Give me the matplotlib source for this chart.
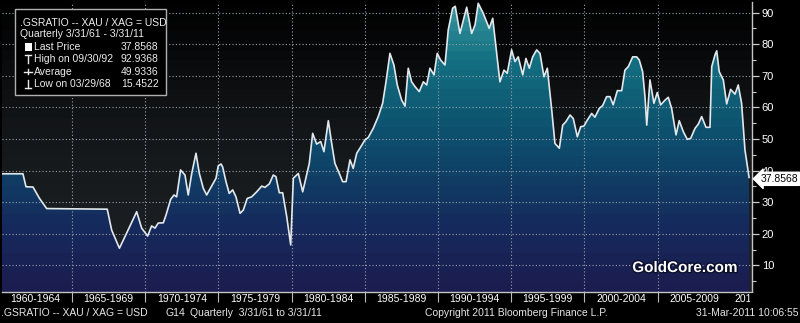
import numpy as np
import matplotlib
matplotlib.use('Agg')
import matplotlib.pyplot as plt
import matplotlib.patheffects as pe
from matplotlib.colors import LinearSegmentedColormap
from matplotlib.lines import Line2D
from matplotlib.patches import Rectangle
from matplotlib.ticker import MultipleLocator
from matplotlib.transforms import blended_transform_factory

plt.rcParams['font.family'] = ['Liberation Sans', 'DejaVu Sans']

# gold / silver ratio, quarterly closes (decimal year, ratio)
dates = [
    1960.22, 1961.65, 1961.86, 1962.34, 1962.77, 1963.27, 1967.41, 1967.71, 1968.24, 1968.74,
    1969.42, 1969.76, 1970.17, 1970.44, 1970.67, 1970.89, 1971.24, 1971.42, 1971.74, 1971.97,
    1972.15, 1972.42, 1972.72, 1972.94, 1973.18, 1973.47, 1973.70, 1973.97, 1974.20, 1974.65,
    1974.84, 1974.99, 1975.18, 1975.29, 1975.52, 1975.74, 1975.98, 1976.20, 1976.48, 1976.70,
    1976.97, 1977.27, 1977.62, 1977.96, 1978.18, 1978.48, 1978.75, 1978.93, 1979.16, 1979.39,
    1979.67, 1979.94, 1980.12, 1980.46, 1980.76, 1981.21, 1981.44, 1981.71, 1981.99, 1982.21,
    1982.51, 1982.74, 1982.96, 1983.26, 1983.49, 1983.72, 1983.99, 1984.21, 1984.45, 1984.67,
    1985.01, 1985.24, 1985.58, 1985.92, 1986.22, 1986.45, 1986.72, 1986.99, 1987.22, 1987.52,
    1987.75, 1987.97, 1988.20, 1988.43, 1988.72, 1989.00, 1989.23, 1989.45, 1989.73, 1989.95,
    1990.18, 1990.48, 1990.70, 1991.00, 1991.18, 1991.50, 1991.96, 1992.30, 1992.53, 1992.75,
    1993.09, 1993.50, 1993.74, 1994.23, 1994.51, 1994.73, 1995.03, 1995.26, 1995.48, 1995.79,
    1996.01, 1996.24, 1996.47, 1996.74, 1996.97, 1997.24, 1997.47, 1997.77, 1997.99, 1998.29,
    1998.52, 1998.74, 1999.02, 1999.24, 1999.52, 1999.75, 1999.97, 2000.20, 2000.50, 2000.72,
    2001.02, 2001.25, 2001.52, 2001.75, 2001.97, 2002.25, 2002.55, 2002.77, 2003.00, 2003.30,
    2003.57, 2003.75, 2003.98, 2004.14, 2004.26, 2004.48, 2004.75, 2004.98, 2005.21, 2005.51,
    2005.73, 2005.96, 2006.26, 2006.48, 2006.76, 2007.03, 2007.26, 2007.56, 2007.78, 2008.01,
    2008.31, 2008.58, 2008.70, 2008.92, 2009.04, 2009.21, 2009.49, 2009.72, 2009.99, 2010.29,
    2010.51, 2010.74, 2010.97, 2011.25,
]
ratio = [
    39.0, 39.0, 34.9, 34.8, 31.3, 28.0, 27.8, 21.2, 15.4522, 20.3,
    27.0, 21.8, 19.3, 22.5, 21.8, 23.4, 23.5, 25.9, 30.9, 32.3,
    31.7, 40.2, 38.6, 32.3, 39.1, 45.5, 39.1, 34.4, 32.3, 36.0,
    37.6, 41.5, 42.1, 41.2, 36.5, 32.8, 33.9, 31.7, 26.5, 27.5,
    31.2, 31.7, 33.3, 35.1, 34.7, 35.8, 38.6, 38.1, 33.0, 33.0,
    25.4, 16.5, 37.6, 39.1, 33.3, 42.3, 51.8, 48.4, 49.2, 46.0,
    55.8, 48.6, 42.3, 39.1, 36.5, 36.5, 43.4, 40.7, 45.5, 47.1,
    49.7, 50.5, 53.4, 57.1, 61.3, 68.1, 77.1, 73.4, 67.1, 62.3,
    60.4, 72.4, 68.1, 66.6, 65.0, 68.1, 67.1, 72.4, 70.3, 77.1,
    75.0, 73.4, 84.5, 91.4, 92.0, 83.4, 91.7, 83.4, 86.1, 92.9368,
    89.8, 85.0, 88.2, 68.1, 71.8, 70.8, 78.2, 74.5, 76.0, 70.3,
    75.5, 72.4, 76.0, 78.2, 77.1, 69.7, 72.4, 59.2, 48.6, 47.1,
    54.4, 55.5, 57.6, 56.5, 50.7, 53.9, 54.1, 56.0, 58.1, 56.9,
    59.7, 60.6, 63.4, 63.4, 60.8, 65.3, 65.3, 71.8, 72.9, 76.0,
    76.0, 75.0, 71.3, 63.4, 54.4, 68.7, 61.3, 64.7, 60.8, 62.3,
    63.2, 59.7, 51.3, 55.8, 52.3, 49.9, 50.2, 53.4, 54.7, 57.1,
    53.7, 53.7, 72.9, 76.6, 77.9, 71.3, 68.7, 61.1, 65.7, 64.2,
    67.1, 61.3, 46.5, 37.8568,
]

last_price = 37.8568
high_label, high_value = 'High on 09/30/92', 92.9368
avg_value = 49.9336
low_label, low_value = 'Low on 03/29/68', 15.4522

period_starts = list(range(1960, 2015, 5))
y_ticks = [10, 20, 30, 40, 50, 60, 70, 80, 90]

W, H = 800, 323


def fx(x):
    return x / W


def fy(y):
    return 1 - y / H


fig = plt.figure(figsize=(W / 100, H / 100), dpi=100, facecolor='black')
ax = fig.add_axes([fx(2), fy(292), 750 / W, 290 / H])
x0, x1 = dates[0], 2011.45
y0, y1 = 1.6, 93.35
ax.set_xlim(x0, x1)
ax.set_ylim(y0, y1)
ax.set_facecolor('black')

# stepped vertical gradients: dark backdrop and blue/teal area under the line
grad = np.floor(np.linspace(0, 1, 400) * 30) / 30
grad = grad[:, None]
bg_cmap = LinearSegmentedColormap.from_list('bg', ['#1e2226', '#15181b', '#000000'])
fill_cmap = LinearSegmentedColormap.from_list(
    'fill', ['#1b1d50', '#16295c', '#0f4166', '#0d5872', '#157283', '#3c9ca4'])
ax.imshow(grad, extent=[x0, x1, y0, y1], origin='lower', aspect='auto',
          cmap=bg_cmap, zorder=0.5, interpolation='nearest')
img = ax.imshow(grad, extent=[x0, x1, y0, y1], origin='lower', aspect='auto',
                cmap=fill_cmap, zorder=1, interpolation='nearest')
area = ax.fill_between(dates, ratio, y0, facecolor='none', edgecolor='none')
img.set_clip_path(area.get_paths()[0], transform=ax.transData)

ax.plot(dates, ratio, color='#e2e8ec', lw=1.2, zorder=3)

# axes, ticks and dotted grid
ax.set_axisbelow(False)
ax.set_xticks(period_starts[1:-1])
ax.tick_params(axis='x', length=7, width=0.8, color='#bbbbbb', labelbottom=False)
ax.yaxis.tick_right()
ax.set_yticks(y_ticks)
ax.yaxis.set_minor_locator(MultipleLocator(5))
ax.tick_params(axis='y', which='major', length=5, width=0.9, color='#cccccc',
               labelcolor='white', labelsize=8, pad=2)
ax.tick_params(axis='y', which='minor', length=3, width=0.8, color='#cccccc')
ax.grid(True, which='major', color='#9aa2aa', linestyle=(0, (1, 2)), linewidth=0.8)
for side in ('top', 'left'):
    ax.spines[side].set_visible(False)
for side in ('right', 'bottom'):
    ax.spines[side].set_color('#c4c4c4')
    ax.spines[side].set_linewidth(1.0)

# period labels under the axis
trans = blended_transform_factory(ax.transData, ax.transAxes)
for s in period_starts:
    if s + 5 <= x1:
        ax.text(s + 2.5, -0.025, f'{s}-{s + 4}', transform=trans, ha='center', va='center',
                color='white', fontsize=7.5, clip_on=False)
    else:
        ax.text(s + 0.25, -0.025, f'{s}-{s + 4}', transform=trans, ha='left', va='center',
                color='white', fontsize=7.5, clip_on=False)
fig.add_artist(Rectangle((fx(750), fy(305)), 50 / W, 12 / H, transform=fig.transFigure,
                         facecolor='black', edgecolor='none', zorder=5))

# last price tag on the right axis
ax.annotate(f'{last_price:.4f}', xy=(1, last_price), xycoords=('axes fraction', 'data'),
            xytext=(6, -1), textcoords='offset points', ha='left', va='center',
            fontsize=7.5, color='black', annotation_clip=False, zorder=6,
            bbox=dict(boxstyle='larrow,pad=0.15', facecolor='white', edgecolor='white'))

# legend box
fig.add_artist(Rectangle((fx(15), fy(95)), 151 / W, 86 / H, transform=fig.transFigure,
                         facecolor='black', edgecolor='#b0b0b0', linewidth=1, zorder=5))
leg_kw = dict(color='#ececec', fontsize=7.5, va='center', zorder=6)
fig.text(fx(20.5), fy(22.7), '.GSRATIO -- XAU / XAG = USD', **leg_kw)
fig.text(fx(20.5), fy(34), 'Quarterly 3/31/61 - 3/31/11', **leg_kw)
rows = [('Last Price', last_price, 46.7), (high_label, high_value, 59.3),
        ('Average', avg_value, 71.7), (low_label, low_value, 84)]
for label, value, y in rows:
    fig.text(fx(33.5), fy(y), label, **leg_kw)
    fig.text(fx(158.5), fy(y), f'{value:.4f}', ha='right', **leg_kw)

sym = dict(color='#ececec', lw=1.0, transform=fig.transFigure, zorder=6)
fig.add_artist(Rectangle((fx(24.5), fy(50.7)), 7 / W, 8 / H, transform=fig.transFigure,
                         facecolor='white', edgecolor='none', zorder=6))
fig.add_artist(Line2D([fx(25), fx(31)], [fy(55.3), fy(55.3)], **sym))
fig.add_artist(Line2D([fx(28), fx(28)], [fy(55.3), fy(63.3)], **sym))
fig.add_artist(Line2D([fx(24), fx(32)], [fy(71.7), fy(71.7)], **sym))
fig.add_artist(Line2D([fx(28), fx(28)], [fy(69.2), fy(74.2)], **sym))
fig.add_artist(Line2D([fx(25), fx(31)], [fy(88), fy(88)], **sym))
fig.add_artist(Line2D([fx(28), fx(28)], [fy(80), fy(88)], **sym))

fig.text(fx(685), fy(268), 'GoldCore.com', ha='center', va='center', fontsize=11,
         fontweight='bold', color='white', zorder=6,
         path_effects=[pe.withStroke(linewidth=2, foreground='#0b0f2c')])

# footer
foot = dict(color='#e6e6e6', fontsize=7.5, va='center')
fig.text(fx(1), fy(313), '.GSRATIO -- XAU / XAG = USD', ha='left', **foot)
fig.text(fx(165), fy(313), 'G14', ha='left', **foot)
fig.text(fx(190), fy(313), 'Quarterly  3/31/61 to 3/31/11', ha='left', **foot)
fig.text(fx(516), fy(313), 'Copyright 2011 Bloomberg Finance L.P.', ha='center', **foot)
fig.text(fx(798), fy(313), '31-Mar-2011 10:06:55', ha='right', **foot)

fig.savefig('out.png', dpi=100, facecolor='black')
